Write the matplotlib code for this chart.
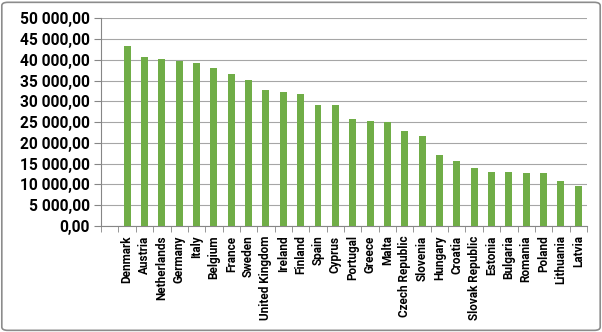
import matplotlib
matplotlib.use('Agg')
import matplotlib.pyplot as plt
from matplotlib.patches import FancyBboxPatch
from matplotlib.ticker import FuncFormatter
import numpy as np

# categories (first one is blank in the original sheet)
countries = ['', 'Denmark', 'Austria', 'Netherlands', 'Germany', 'Italy', 'Belgium',
             'France', 'Sweden', 'United Kingdom', 'Ireland', 'Finland', 'Spain',
             'Cyprus', 'Portugal', 'Greece', 'Malta', 'Czech Republic', 'Slovenia',
             'Hungary', 'Croatia', 'Slovak Republic', 'Estonia', 'Bulgaria',
             'Romania', 'Poland', 'Lithuania', 'Latvia']
values = [0, 43400, 40700, 40100, 39700, 39300, 38000, 36600, 35050, 32700,
          32300, 31750, 29100, 29100, 25700, 25150, 25000, 22830, 21620, 17040,
          15600, 13900, 12940, 12940, 12700, 12700, 10780, 9640]

green = '#70AD47'
grid_col = '#A6A6A6'

plt.rcParams['font.family'] = ['Roboto', 'DejaVu Sans']

fig = plt.figure(figsize=(6.02, 3.32), dpi=100)
ax = fig.add_axes([0.168, 0.320, 0.807, 0.625])

x = np.arange(len(countries))
ax.bar(x, values, width=0.4, color=green, zorder=3)

ax.set_xlim(-0.5, len(countries) - 0.5)
ax.set_ylim(0, 50000)
ax.set_yticks(np.arange(0, 50001, 5000))

def fmt(v, pos):
    s = '{:,.2f}'.format(v).replace(',', ' ').replace('.', ',')
    return s
ax.yaxis.set_major_formatter(FuncFormatter(fmt))

ax.set_xticks(x)
ax.set_xticklabels(countries, rotation=90, fontsize=8.5, fontweight='bold')
ax.set_xticks(np.arange(-0.5, len(countries), 1), minor=True)
ax.tick_params(axis='x', which='major', length=0, pad=7)
ax.tick_params(axis='x', which='minor', length=4, color='#868686', direction='out')
ax.tick_params(axis='y', length=5, color='#868686', labelsize=11.2, pad=3)
for lab in ax.get_yticklabels():
    lab.set_fontweight('bold')

ax.grid(axis='y', color=grid_col, linewidth=0.8, zorder=0)
for side in ['top', 'right']:
    ax.spines[side].set_visible(False)
ax.spines['left'].set_color('#868686')
ax.spines['bottom'].set_color('#868686')

# outer chart border
border = FancyBboxPatch((0.003, 0.005), 0.994, 0.988, boxstyle='round,pad=0,rounding_size=0.01',
                        transform=fig.transFigure, fill=False, edgecolor='#8C8C8C', linewidth=1.2)
fig.patches.append(border)

fig.savefig('out.png', dpi=100)
